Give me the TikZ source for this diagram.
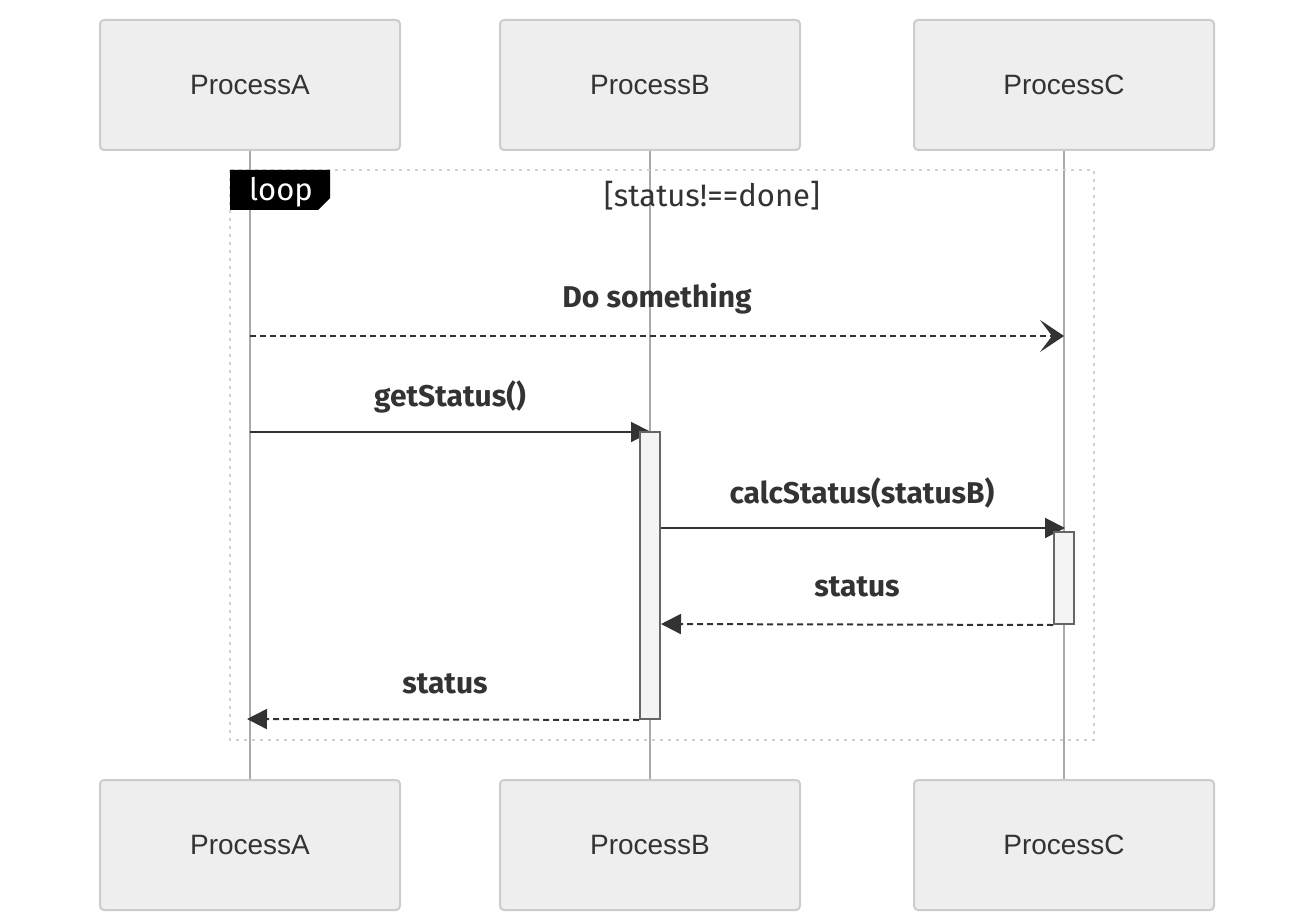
\documentclass[tikz,border=0pt]{standalone}
\usepackage{fontspec}
\setmainfont{Liberation Sans}
\newfontfamily\msgfont{Fira Sans}
\usetikzlibrary{arrows.meta}
\definecolor{txt}{HTML}{333333}
\definecolor{actfill}{HTML}{EEEEEE}
\definecolor{actline}{HTML}{CCCCCC}
\definecolor{lifeline}{HTML}{AAAAAA}
\definecolor{loopline}{HTML}{D0D0D0}
\definecolor{actvfill}{HTML}{F4F4F4}
\definecolor{actvline}{HTML}{666666}
\tikzset{
  actor/.style={draw=actline, line width=2pt, fill=actfill, rounded corners=4pt,
    minimum width=300pt, minimum height=130pt, inner sep=0pt,
    font=\fontsize{28}{32}\selectfont, text=txt},
  lifel/.style={draw=lifeline, line width=1.5pt},
  activation/.style={draw=actvline, line width=2pt, fill=actvfill, minimum width=20pt, inner sep=0pt},
  msg/.style={draw=txt, line width=2pt},
  dmsg/.style={msg, dash pattern=on 6pt off 4pt},
  solidtip/.style={-{Triangle[length=20pt,width=20pt]}},
  opentip/.style={-{Stealth[length=24pt,width=32pt,inset=12pt]}},
  lbl/.style={font=\msgfont\bfseries\fontsize{30}{34}\selectfont, text=txt, inner sep=0pt},
  looptxt/.style={font=\msgfont\fontsize{31}{35}\selectfont, inner sep=0pt},
}
\begin{document}
\begin{tikzpicture}[x=1pt,y=-1pt]
\fill[white] (0,0) rectangle (1314,912);
\useasboundingbox (0,0) rectangle (1314,912);
% actors
\node[actor] (at) at (250,85) {ProcessA};
\node[actor] (bt) at (650,85) {ProcessB};
\node[actor] (ct) at (1064,85) {ProcessC};
\node[actor] (ab) at (250,845) {ProcessA};
\node[actor] (bb) at (650,845) {ProcessB};
\node[actor] (cb) at (1064,845) {ProcessC};
% lifelines
\draw[lifel] (at.south) -- (ab.north);
\draw[lifel] (bt.south) -- (bb.north);
\draw[lifel] (ct.south) -- (cb.north);
% loop frame
\draw[draw=loopline, line width=2.5pt, dash pattern=on 3pt off 5pt] (230,170) rectangle (1094,740);
\fill[black] (230,170) -- (330,170) -- (330,198) -- (318,210) -- (230,210) -- cycle;
\node[looptxt, text=white] (looplbl) at (281,192) {loop};
\node[looptxt, text=txt] (cond) at (712,196) {[status!==done]};
% coordinates
\coordinate (m1s) at (250,336);
\coordinate (m1e) at (1064,336);
\coordinate (m2s) at (250,432);
\coordinate (m2e) at (651,432);
\coordinate (m3s) at (660,528);
\coordinate (m3e) at (1065,528);
% messages into activations (activations drawn on top)
\draw[dmsg, opentip] (m1s) -- (m1e);
\node[lbl] (l1) at (657,299) {Do something};
\draw[msg, solidtip] (m2s) -- (m2e);
\node[lbl] (l2) at (450,397) {getStatus()};
\draw[msg, solidtip] (m3s) -- (m3e);
\node[lbl] (l3) at (862,493) {calcStatus(statusB)};
% activations
\node[activation, minimum height=287pt] (actB) at (650,575.5) {};
\node[activation, minimum height=92pt] (actC) at (1064,578) {};
\coordinate (m4s) at (actC.south west);
\coordinate (m4e) at (actB.east |- 0,624);
\coordinate (m5s) at (actB.south west);
\coordinate (m5e) at (247,719);
\draw[dmsg, solidtip] (m4s) -- (m4e);
\node[lbl] (l4) at (857,587) {status};
\draw[dmsg, solidtip] (m5s) -- (m5e);
\node[lbl] (l5) at (445,684) {status};
\end{tikzpicture}
\end{document}
